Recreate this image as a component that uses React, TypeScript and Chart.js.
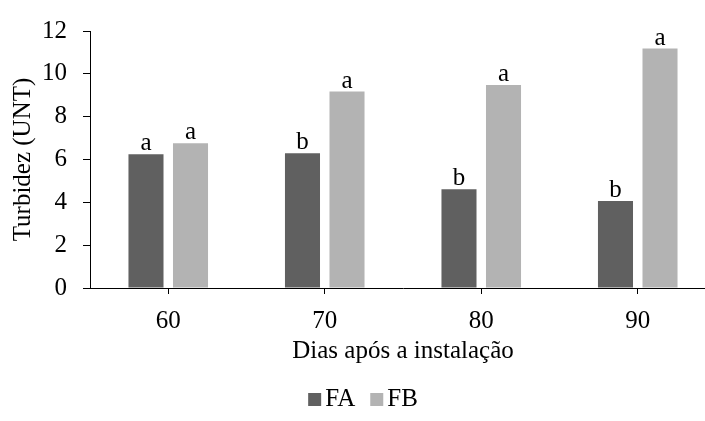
import React, { useEffect, useRef } from "react";
import { Chart, registerables } from "chart.js";

Chart.register(...registerables);

const categories = ["60", "70", "80", "90"];
const seriesNames = ["FA", "FB"];
const valuesFA = [6.24, 6.29, 4.61, 4.06];
const valuesFB = [6.76, 9.17, 9.48, 11.18];
const lettersFA = ["a", "b", "b", "b"];
const lettersFB = ["a", "a", "a", "a"];
const yMin = 0;
const yMax = 12;
const yStep = 2;

const FONT = '"Liberation Serif", "Times New Roman", Times, serif';
const FS = 25;
const COLOR_FA = "#606060";
const COLOR_FB = "#b3b3b3";

const letterPlugin = {
  id: "letters",
  afterDatasetsDraw(chart: any) {
    const { ctx } = chart;
    const letterSets = [lettersFA, lettersFB];
    ctx.save();
    ctx.font = `${FS}px ${FONT}`;
    ctx.fillStyle = "#000";
    ctx.textAlign = "center";
    ctx.textBaseline = "alphabetic";
    chart.data.datasets.forEach((_: any, di: number) => {
      const meta = chart.getDatasetMeta(di);
      meta.data.forEach((bar: any, i: number) => {
        ctx.fillText(letterSets[di][i], bar.x, bar.y - 4);
      });
    });
    ctx.restore();
  },
};

const legendPlugin = {
  id: "bottomLegend",
  afterDraw(chart: any) {
    const { ctx } = chart;
    ctx.save();
    ctx.font = `${FS}px ${FONT}`;
    const items = chart.data.datasets.map((ds: any) => ({
      text: ds.label,
      color: ds.backgroundColor,
      w: ctx.measureText(ds.label).width,
    }));
    const box = 13;
    const gapBoxText = 4;
    const gapItems = 15;
    const total =
      items.reduce((s: number, it: any) => s + box + gapBoxText + it.w, 0) +
      gapItems * (items.length - 1);
    let x = 363 - total / 2;
    const baseline = 406;
    ctx.textBaseline = "alphabetic";
    ctx.textAlign = "left";
    items.forEach((it: any) => {
      ctx.fillStyle = it.color;
      ctx.fillRect(x, baseline - box, box, box);
      x += box + gapBoxText;
      ctx.fillStyle = "#000";
      ctx.fillText(it.text, x, baseline);
      x += it.w + gapItems;
    });
    ctx.restore();
  },
};

export default function App() {
  const canvasRef = useRef<HTMLCanvasElement | null>(null);

  useEffect(() => {
    if (!canvasRef.current) return;
    Chart.defaults.font.family = FONT;
    const chart = new Chart(canvasRef.current, {
      type: "bar",
      data: {
        labels: categories,
        datasets: [
          {
            label: seriesNames[0],
            data: valuesFA,
            backgroundColor: COLOR_FA,
            categoryPercentage: 0.569,
            barPercentage: 0.787,
          },
          {
            label: seriesNames[1],
            data: valuesFB,
            backgroundColor: COLOR_FB,
            categoryPercentage: 0.569,
            barPercentage: 0.787,
          },
        ],
      },
      options: {
        responsive: false,
        animation: false,
        devicePixelRatio: 1,
        layout: { padding: { top: 24, left: 0, right: 0, bottom: 55 } },
        plugins: {
          legend: { display: false },
          tooltip: { enabled: false },
        },
        scales: {
          x: {
            afterFit: (scale: any) => {
              scale.height = 78;
            },
            grid: {
              display: true,
              drawOnChartArea: false,
              drawTicks: true,
              tickLength: 6,
              offset: false,
              color: "#000",
            },
            border: { display: true, color: "#000", width: 1 },
            ticks: {
              color: "#000",
              padding: 12,
              font: { size: FS, family: FONT },
            },
            title: {
              display: true,
              text: "Dias após a instalação",
              color: "#000",
              font: { size: FS, family: FONT },
              padding: { top: 0, bottom: 0 },
            },
          },
          y: {
            min: yMin,
            max: yMax,
            afterFit: (scale: any) => {
              scale.width = 90;
            },
            grid: {
              display: true,
              drawOnChartArea: false,
              drawTicks: true,
              tickLength: 7,
              color: "#000",
            },
            border: { display: true, color: "#000", width: 1 },
            ticks: {
              stepSize: yStep,
              color: "#000",
              padding: 16,
              font: { size: FS, family: FONT },
            },
            title: {
              display: true,
              text: "Turbidez (UNT)",
              color: "#000",
              font: { size: FS, family: FONT },
              padding: { top: 8, bottom: 0 },
            },
          },
        },
      },
      plugins: [letterPlugin, legendPlugin],
    });
    return () => chart.destroy();
  }, []);

  return (
    <div
      style={{
        position: "fixed",
        left: 0,
        top: 0,
        width: 705,
        height: 421,
        overflow: "hidden",
        background: "#fff",
      }}
    >
      <canvas ref={canvasRef} width={716} height={421} style={{ display: "block" }} />
    </div>
  );
}
